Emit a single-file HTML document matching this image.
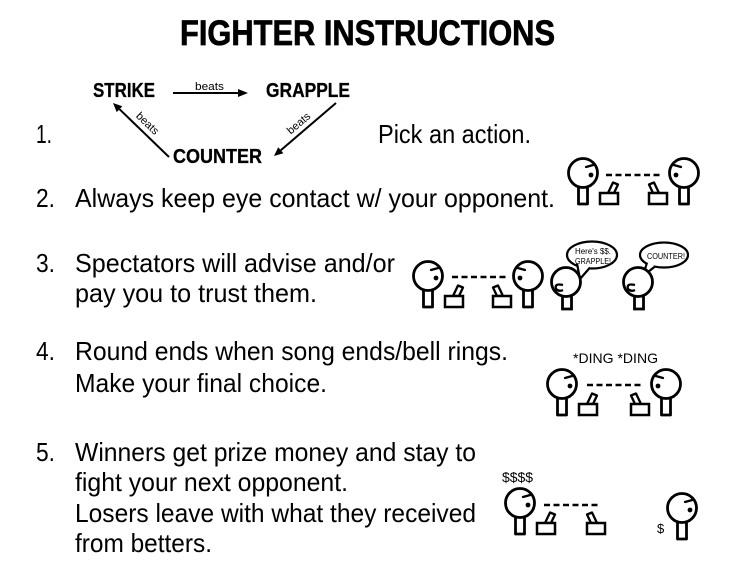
<!DOCTYPE html>
<html><head><meta charset="utf-8"><style>
html,body{margin:0;padding:0;background:#fff;}
svg{display:block;}
text{font-family:"Liberation Sans",sans-serif;fill:#000;}
</style></head><body>
<svg width="750" height="580" viewBox="0 0 750 580" xmlns="http://www.w3.org/2000/svg">
<defs>
  <g id="fr">
    <circle cx="0" cy="0" r="14.5" fill="#fff" stroke="#000" stroke-width="2.8"/>
    <circle cx="8" cy="2" r="2.4" fill="#000"/>
    <line x1="3" y1="-6" x2="12" y2="-8.5" stroke="#000" stroke-width="2.3" stroke-linecap="round"/>
    <path d="M-4.5 14.5 V31 H4.5 V14.5" fill="none" stroke="#000" stroke-width="2.8" stroke-linejoin="round"/>
  </g>
  <g id="desk">
    <polygon points="25,20 30,9.5 35,11.5 31,20" fill="#fff" stroke="#000" stroke-width="2.3" stroke-linejoin="round"/>
    <rect x="17" y="20" width="18" height="11" fill="#fff" stroke="#000" stroke-width="2.5"/>
  </g>
</defs>
<rect width="750" height="580" fill="#fff"/>

<!-- Title -->
<text x="180" y="45" font-size="35" font-weight="bold" stroke="#000" stroke-width="0.7" textLength="375" lengthAdjust="spacingAndGlyphs">FIGHTER INSTRUCTIONS</text>

<!-- Step 1 diagram -->
<text x="93" y="97" font-size="20" font-weight="bold" stroke="#000" stroke-width="0.3" textLength="62" lengthAdjust="spacingAndGlyphs">STRIKE</text>
<text x="266" y="97" font-size="20" font-weight="bold" stroke="#000" stroke-width="0.3" textLength="84" lengthAdjust="spacingAndGlyphs">GRAPPLE</text>
<text x="173" y="163" font-size="20" font-weight="bold" stroke="#000" stroke-width="0.3" textLength="89" lengthAdjust="spacingAndGlyphs">COUNTER</text>

<line x1="173" y1="93" x2="240" y2="93" stroke="#000" stroke-width="2"/>
<polygon points="248,93 238,89 238,97" fill="#000"/>
<text x="195" y="90" font-size="11" textLength="29" lengthAdjust="spacingAndGlyphs">beats</text>

<line x1="169" y1="157" x2="119.5" y2="109.2" stroke="#000" stroke-width="2"/>
<polygon points="113,103 122.3,106.3 116.7,112.1" fill="#000"/>
<text transform="translate(145,126) rotate(44)" font-size="11" text-anchor="middle">beats</text>

<line x1="336" y1="103" x2="280.8" y2="150.2" stroke="#000" stroke-width="2"/>
<polygon points="274,156 283.4,153.2 278.2,147.2" fill="#000"/>
<text transform="translate(301,126) rotate(-40.5)" font-size="11" text-anchor="middle">beats</text>

<!-- Main text -->
<g font-size="26">
<text x="36" y="143" textLength="16" lengthAdjust="spacingAndGlyphs">1.</text>
<text x="378" y="143" textLength="153" lengthAdjust="spacingAndGlyphs">Pick an action.</text>
<text x="36" y="207" textLength="19" lengthAdjust="spacingAndGlyphs">2.</text>
<text x="75" y="207" textLength="480" lengthAdjust="spacingAndGlyphs">Always keep eye contact w/ your opponent.</text>
<text x="36" y="272" textLength="19" lengthAdjust="spacingAndGlyphs">3.</text>
<text x="75" y="272" textLength="320" lengthAdjust="spacingAndGlyphs">Spectators will advise and/or</text>
<text x="75" y="302" textLength="242" lengthAdjust="spacingAndGlyphs">pay you to trust them.</text>
<text x="36" y="360" textLength="19" lengthAdjust="spacingAndGlyphs">4.</text>
<text x="75" y="360" textLength="433" lengthAdjust="spacingAndGlyphs">Round ends when song ends/bell rings.</text>
<text x="75" y="392" textLength="252" lengthAdjust="spacingAndGlyphs">Make your final choice.</text>
<text x="36" y="461" textLength="19" lengthAdjust="spacingAndGlyphs">5.</text>
<text x="75" y="461" textLength="401" lengthAdjust="spacingAndGlyphs">Winners get prize money and stay to</text>
<text x="75" y="491" textLength="273" lengthAdjust="spacingAndGlyphs">fight your next opponent.</text>
<text x="75" y="522" textLength="401" lengthAdjust="spacingAndGlyphs">Losers leave with what they received</text>
<text x="75" y="552" textLength="137" lengthAdjust="spacingAndGlyphs">from betters.</text>
</g>

<!-- Step 2 figures -->
<line x1="606" y1="175" x2="662" y2="175" stroke="#000" stroke-width="2.6" stroke-dasharray="6 3.5"/>
<g transform="translate(583,173)"><use href="#fr"/><use href="#desk"/></g>
<g transform="translate(684,173) scale(-1,1)"><use href="#fr"/><use href="#desk"/></g>

<!-- Step 3 figures -->
<line x1="452" y1="277" x2="508" y2="277" stroke="#000" stroke-width="2.6" stroke-dasharray="6 3.5"/>
<g transform="translate(428,276)"><use href="#fr"/><use href="#desk"/></g>
<g transform="translate(528,276) scale(-1,1)"><use href="#fr"/><use href="#desk"/></g>

<!-- spectator 1 -->
<ellipse cx="592" cy="255" rx="25" ry="13.5" fill="#fff" stroke="#000" stroke-width="2.2"/>
<polygon points="577,263 580,279 590,267" fill="#fff"/>
<polyline points="577,263.5 580,279 590,267.5" fill="none" stroke="#000" stroke-width="2.2" stroke-linejoin="round"/>
<text x="593" y="254" font-size="8" text-anchor="middle" textLength="36" lengthAdjust="spacingAndGlyphs">Here's $$.</text>
<text x="593" y="264" font-size="8" text-anchor="middle" textLength="36" lengthAdjust="spacingAndGlyphs">GRAPPLE!</text>
<circle cx="566" cy="282" r="14.5" fill="#fff" stroke="#000" stroke-width="2.8"/>
<path d="M563 285 Q554 283 556 289 Q559 292 563 290" fill="none" stroke="#000" stroke-width="2.3"/>
<path d="M562.5 296.5 V309 H571.5 V296.5" fill="none" stroke="#000" stroke-width="2.8"/>

<!-- spectator 2 -->
<ellipse cx="664" cy="255" rx="24" ry="12.5" fill="#fff" stroke="#000" stroke-width="2.2"/>
<polygon points="647,262 643,276 655,266" fill="#fff"/>
<polyline points="647,262.5 643,276 655,266.5" fill="none" stroke="#000" stroke-width="2.2" stroke-linejoin="round"/>
<text x="666" y="259" font-size="8" text-anchor="middle" textLength="38" lengthAdjust="spacingAndGlyphs">COUNTER!</text>
<circle cx="638" cy="282" r="14.5" fill="#fff" stroke="#000" stroke-width="2.8"/>
<path d="M635 285 Q626 283 628 289 Q631 292 635 290" fill="none" stroke="#000" stroke-width="2.3"/>
<path d="M634.5 296.5 V309 H643.5 V296.5" fill="none" stroke="#000" stroke-width="2.8"/>

<!-- Step 4 figures -->
<text x="573" y="363" font-size="14" textLength="85" lengthAdjust="spacingAndGlyphs">*DING *DING</text>
<line x1="587" y1="385" x2="643" y2="385" stroke="#000" stroke-width="2.6" stroke-dasharray="6 3.5"/>
<g transform="translate(562,384)"><use href="#fr"/><use href="#desk"/></g>
<g transform="translate(666,384) scale(-1,1)"><use href="#fr"/><use href="#desk"/></g>

<!-- Step 5 figures -->
<text x="502" y="482" font-size="14" textLength="31" lengthAdjust="spacingAndGlyphs">$$$$</text>
<line x1="544" y1="505" x2="598" y2="505" stroke="#000" stroke-width="2.6" stroke-dasharray="6 3.5"/>
<g transform="translate(520,503)"><use href="#fr"/><use href="#desk"/></g>
<g transform="translate(622,503) scale(-1,1)"><use href="#desk"/></g>
<g transform="translate(682,508)"><use href="#fr"/></g>
<text x="657" y="533" font-size="13">$</text>
</svg>
</body></html>
